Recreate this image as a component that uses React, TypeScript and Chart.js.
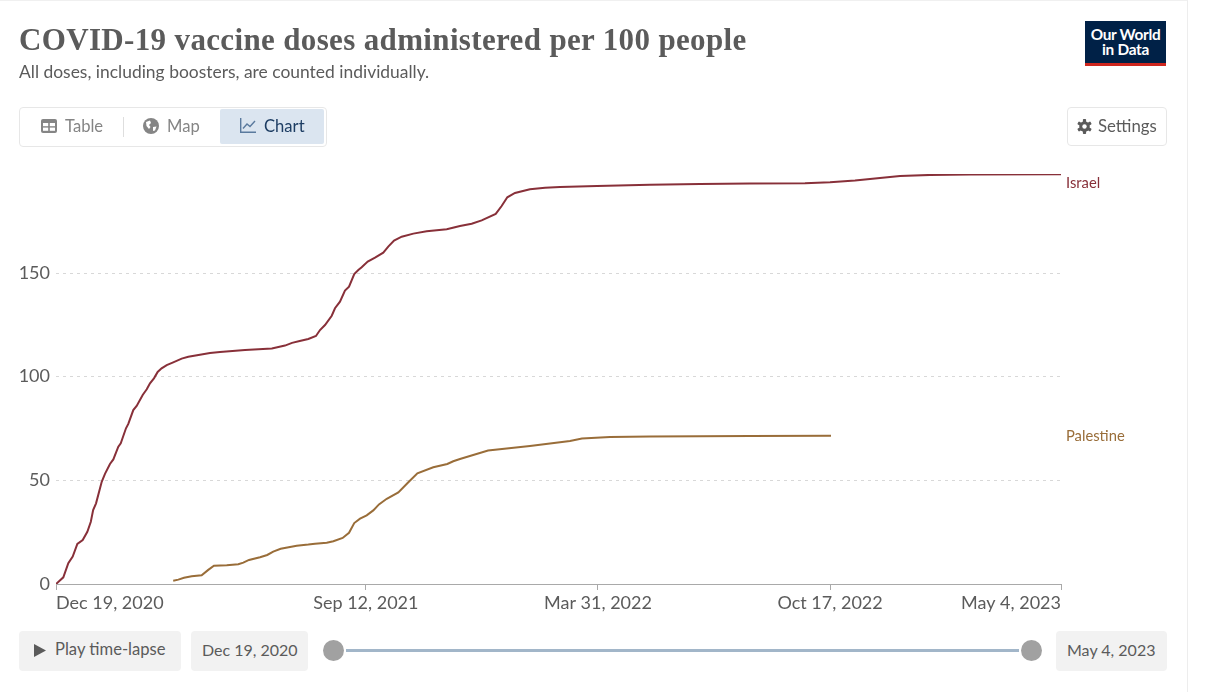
import React, { useEffect, useRef } from "react";
import { Chart, registerables } from "chart.js";

Chart.register(...registerables);

const startLabel = "Dec 19, 2020";
const endLabel = "May 4, 2023";
const xTickDays = [0, 267, 467, 667, 866];
const xTickLabels = ["Dec 19, 2020", "Sep 12, 2021", "Mar 31, 2022", "Oct 17, 2022", "May 4, 2023"];
const yTicks = [0, 50, 100, 150];

const israelDays = [0, 6.3, 10.6, 14.4, 18.4, 23, 27, 30, 32, 34.5, 39.4, 42.2, 46.5, 49.4, 53.7, 55.8, 60.3, 62.3, 66.6, 69.5, 74.7, 78.2, 81, 84.4, 87.6, 91, 95.4, 101, 108.3, 114, 124, 132.7, 141.3, 162.9, 186, 197.3, 203.4, 210, 217.4, 224, 227.5, 231.8, 237.6, 240.4, 244.7, 249, 252.5, 257, 260.5, 263.4, 268.6, 274.9, 282, 286.3, 291.3, 297.9, 307.9, 319.4, 336.7, 348.1, 358.2, 366.8, 378.9, 384, 388.9, 395.5, 408.4, 421.4, 434.3, 466.2, 511.8, 554.9, 598, 645.4, 667, 688.5, 710, 727.3, 753, 787.6, 866];
const israelDoses = [0, 3.2, 10, 13.2, 19.3, 21.2, 25.2, 30, 35.7, 38.9, 49.3, 53.1, 57.9, 60.1, 66.2, 67.9, 75.1, 77.2, 83.9, 85.9, 91.2, 93.9, 96.8, 99.2, 102.3, 104, 105.6, 106.9, 108.7, 109.6, 110.6, 111.4, 111.9, 112.9, 113.6, 115, 116.3, 117.2, 118.2, 119.6, 122.5, 124.9, 129.4, 133, 136.2, 141.5, 143.4, 149.5, 151.4, 152.8, 155.5, 157.4, 159.8, 162.7, 165.6, 167.5, 169, 170.1, 171.1, 172.7, 173.8, 175.4, 178.5, 182.3, 186.5, 188.6, 190.4, 191.1, 191.5, 192, 192.6, 192.9, 193.2, 193.3, 193.8, 194.6, 195.8, 196.8, 197.3, 197.5, 197.6];

const palestineDays = [101, 105.4, 110.3, 116.9, 125.5, 131.2, 136.1, 147.1, 157.1, 161.4, 166.3, 175.8, 182, 187.2, 193.6, 207.4, 217.4, 223.2, 233.3, 239, 247, 252.5, 257, 262, 267.7, 273.4, 278.3, 285, 295, 303.6, 311.4, 325.1, 337.2, 342.3, 348.1, 372.3, 408.4, 442.9, 453.2, 477.4, 511.8, 598, 667.8];
const palestineDoses = [1.6, 2.1, 3, 3.7, 4.2, 6.8, 8.8, 9.1, 9.5, 10.3, 11.6, 12.9, 14, 15.6, 17, 18.5, 19, 19.4, 19.9, 20.6, 22.2, 24.7, 29.4, 31.5, 33.1, 35.5, 38.4, 41.1, 44.2, 49.1, 53.4, 56.3, 57.9, 59.2, 60.3, 64.4, 66.6, 69, 70.2, 70.9, 71.1, 71.4, 71.5];

const ISRAEL = "#883039";
const PALESTINE = "#996D39";
const TEXT = "#5b5b5b";
const FONT = "Lato, sans-serif";

const zip = (xs: number[], ys: number[]) => xs.map((x, i) => ({ x, y: ys[i] }));

const seriesLabels = {
  id: "seriesLabels",
  afterDatasetsDraw(chart: any) {
    const { ctx, scales } = chart;
    ctx.save();
    ctx.font = `14.75px ${FONT}`;
    ctx.textBaseline = "middle";
    ctx.textAlign = "left";
    const x = scales.x.right + 5;
    ctx.fillStyle = ISRAEL;
    ctx.fillText("Israel", x, scales.y.top + 9);
    ctx.fillStyle = PALESTINE;
    ctx.fillText("Palestine", x, scales.y.getPixelForValue(palestineDoses[palestineDoses.length - 1]));
    ctx.restore();
  },
};

const box = (l: number, t: number, w: number, h: number, extra: React.CSSProperties = {}): React.CSSProperties => ({
  position: "absolute",
  left: l,
  top: t,
  width: w,
  height: h,
  boxSizing: "border-box",
  ...extra,
});

const label = (l: number, cy: number, size: number, color: string, text: string, extra: React.CSSProperties = {}) => (
  <div style={{ position: "absolute", left: l, top: cy - 15, height: 30, lineHeight: "30px", fontSize: size, color, whiteSpace: "nowrap", ...extra }}>{text}</div>
);

export default function App() {
  const ref = useRef<HTMLCanvasElement>(null);
  useEffect(() => {
    document.body.style.margin = "0";
    document.body.style.background = "#fff";
    const chart = new Chart(ref.current!, {
      type: "line",
      data: {
        datasets: [
          { label: "Israel", data: zip(israelDays, israelDoses), borderColor: ISRAEL, borderWidth: 2, pointRadius: 0, tension: 0 },
          { label: "Palestine", data: zip(palestineDays, palestineDoses), borderColor: PALESTINE, borderWidth: 2, pointRadius: 0, tension: 0 },
        ],
      },
      plugins: [seriesLabels],
      options: {
        animation: false,
        responsive: false,
        layout: { padding: { left: 0, top: 174, right: 162, bottom: 78 } },
        plugins: { legend: { display: false }, tooltip: { enabled: false }, title: { display: false } },
        scales: {
          x: {
            type: "linear",
            min: 0,
            max: 866,
            afterFit(s: any) { s.height = 30; },
            afterBuildTicks(s: any) { s.ticks = xTickDays.map((value) => ({ value })); },
            border: { display: true, color: "#a9a9a9", width: 1 },
            grid: { drawOnChartArea: false, drawTicks: true, tickLength: 6, color: "#a9a9a9" },
            ticks: {
              align: "inner",
              autoSkip: false,
              maxRotation: 0,
              padding: 2,
              color: TEXT,
              font: { family: FONT, size: 18 },
              callback: (v: any) => xTickLabels[xTickDays.indexOf(v)],
            },
          },
          y: {
            type: "linear",
            min: 0,
            max: 197.75,
            afterFit(s: any) { s.width = 56; },
            afterBuildTicks(s: any) { s.ticks = yTicks.map((value) => ({ value })); },
            border: { display: false, dash: [3, 4] },
            grid: { drawTicks: false, color: (c: any) => (c.tick && c.tick.value === 0 ? "rgba(0,0,0,0)" : "#d8d8d8") },
            ticks: { padding: 6, color: TEXT, font: { family: FONT, size: 18 } },
          },
        },
      },
    } as any);
    return () => chart.destroy();
  }, []);

  return (
    <div style={{ position: "relative", width: 1223, height: 692, overflow: "hidden", fontFamily: FONT, background: "#fff" }}>
      <div style={box(0, -1, 1188, 700, { border: "1px solid #ededed", borderLeft: "none", borderBottom: "none", borderTopColor: "#f0f0f0", borderTopWidth: 2 })} />
      <canvas ref={ref} width={1223} height={692} style={{ position: "absolute", left: 0, top: 0, display: "block" }} />

      <div style={{ position: "absolute", left: 19, top: 20, height: 40, lineHeight: "40px", fontFamily: "'Liberation Serif', serif", fontWeight: 700, fontSize: 31, letterSpacing: 0.35, color: TEXT, whiteSpace: "nowrap" }}>
        COVID-19 vaccine doses administered per 100 people
      </div>
      {label(19, 72, 17.45, TEXT, "All doses, including boosters, are counted individually.")}

      <div style={box(1085, 21, 81, 45, { background: "#002147", borderBottom: "3px solid #ce261e", color: "#fff", textAlign: "center", fontWeight: 700, fontSize: 15.4, lineHeight: "15px", paddingTop: 6, letterSpacing: -0.3 })}>
        Our World
        <br />
        in Data
      </div>

      <div style={box(19, 107, 308, 40, { border: "1px solid #e7e7e7", borderRadius: 4 })} />
      <div style={box(220, 109, 104, 35, { background: "#dbe5f0", borderRadius: 2 })} />
      <div style={box(123, 117, 1, 20, { background: "#dedede" })} />
      <svg style={{ position: "absolute", left: 41, top: 119 }} width={16} height={14} viewBox="0 0 16 14">
        <rect width={16} height={14} rx={2} fill="#858585" />
        <rect x={2} y={4} width={5.2} height={3.2} fill="#fff" />
        <rect x={8.8} y={4} width={5.2} height={3.2} fill="#fff" />
        <rect x={2} y={8.6} width={5.2} height={3.2} fill="#fff" />
        <rect x={8.8} y={8.6} width={5.2} height={3.2} fill="#fff" />
      </svg>
      {label(65, 126, 16.6, "#858585", "Table")}
      <svg style={{ position: "absolute", left: 143, top: 118 }} width={16} height={16} viewBox="0 0 16 16">
        <circle cx={8} cy={8} r={8} fill="#858585" />
        <path d="M3 4 L7 2.5 L8 5 L6 7 L7.5 9 L6 11 L3.5 8 Z M10 9 L13.5 8.5 L12 12.5 L10 13 Z" fill="#fff" />
      </svg>
      {label(167, 126, 16.6, "#858585", "Map")}
      <svg style={{ position: "absolute", left: 240, top: 118 }} width={16} height={15} viewBox="0 0 16 15" fill="none" stroke="#5a7a9e" strokeWidth={1.4}>
        <path d="M0.7 0 V14.3 H16" />
        <path d="M3 10.5 L7 6 L10 8.5 L15 3" />
      </svg>
      {label(264, 126, 16.6, "#1d3d63", "Chart")}

      <div style={box(1067, 107, 100, 39, { border: "1px solid #e7e7e7", borderRadius: 4 })} />
      <svg style={{ position: "absolute", left: 1077, top: 119 }} width={15} height={15} viewBox="0 0 15 15">
        <g fill="#5b5b5b">
          <circle cx={7.5} cy={7.5} r={5.2} />
          {[0, 60, 120].map((a) => (
            <rect key={a} x={5.9} y={0} width={3.2} height={15} rx={0.8} transform={`rotate(${a} 7.5 7.5)`} />
          ))}
        </g>
        <circle cx={7.5} cy={7.5} r={2.2} fill="#fff" />
      </svg>
      {label(1098, 126, 16.8, TEXT, "Settings")}

      <div style={box(19, 631, 162, 40, { background: "#f2f2f2", borderRadius: 4 })} />
      <svg style={{ position: "absolute", left: 34, top: 644 }} width={12} height={13} viewBox="0 0 12 13">
        <path d="M0 0 L12 6.5 L0 13 Z" fill="#5b5b5b" />
      </svg>
      {label(55, 649, 16.6, TEXT, "Play time-lapse")}
      <div style={box(191, 631, 117, 40, { background: "#f2f2f2", borderRadius: 4 })} />
      {label(202, 650, 16, TEXT, startLabel)}
      <div style={box(346, 649, 673, 3, { background: "#a2b6c9" })} />
      <div style={box(323, 640, 21, 21, { background: "#a1a1a1", borderRadius: "50%" })} />
      <div style={box(1021, 640, 21, 21, { background: "#a1a1a1", borderRadius: "50%" })} />
      <div style={box(1056, 631, 111, 40, { background: "#f2f2f2", borderRadius: 4 })} />
      {label(1067, 650, 16, TEXT, endLabel)}
    </div>
  );
}
